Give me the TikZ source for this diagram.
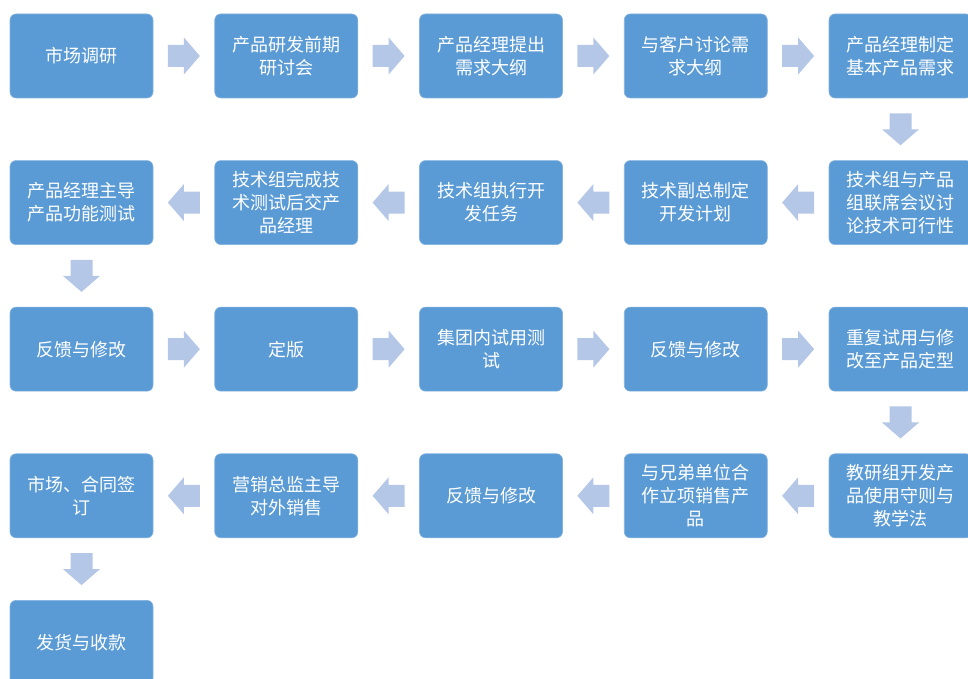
\documentclass[tikz,border=0pt]{standalone}
\usepackage{fontspec}
\newfontfamily\cjk{Noto Sans CJK SC}
\usetikzlibrary{positioning,calc}
\definecolor{boxblue}{RGB}{91,155,213}
\definecolor{boxedge}{RGB}{130,178,224}
\definecolor{arrowblue}{RGB}{180,199,231}
\begin{document}
\begin{tikzpicture}[x=1pt,y=1pt,
    node distance=62.6pt and 61.75pt,
    stepbox/.style={rectangle,rounded corners=6pt,fill=boxblue,draw=boxedge,line width=0.6pt,
      minimum width=143pt,minimum height=84pt,inner sep=0pt,outer sep=0pt,align=center,text=white,
      font=\cjk\fontsize{18}{23}\selectfont},
    blockarrow/.pic={\fill[arrowblue] (-16,-11) -- (0,-11) -- (0,-18.5) -- (16,0)
      -- (0,18.5) -- (0,11) -- (-16,11) -- cycle;}]
  \useasboundingbox (0,0) rectangle (968,679);
  % row 1, left to right
  \node[stepbox,anchor=north west] (r1c1) at (10,665) {市场调研};
  \node[stepbox,right=of r1c1] (r1c2) {产品研发前期\\研讨会};
  \node[stepbox,right=of r1c2] (r1c3) {产品经理提出\\需求大纲};
  \node[stepbox,right=of r1c3] (r1c4) {与客户讨论需\\求大纲};
  \node[stepbox,right=of r1c4] (r1c5) {产品经理制定\\基本产品需求};
  % row 2, right to left
  \node[stepbox,below=of r1c5] (r2c5) {技术组与产品\\组联席会议讨\\论技术可行性};
  \node[stepbox,left=of r2c5] (r2c4) {技术副总制定\\开发计划};
  \node[stepbox,left=of r2c4] (r2c3) {技术组执行开\\发任务};
  \node[stepbox,left=of r2c3] (r2c2) {技术组完成技\\术测试后交产\\品经理};
  \node[stepbox,left=of r2c2] (r2c1) {产品经理主导\\产品功能测试};
  % row 3, left to right
  \node[stepbox,below=of r2c1] (r3c1) {反馈与修改};
  \node[stepbox,right=of r3c1] (r3c2) {定版};
  \node[stepbox,right=of r3c2] (r3c3) {集团内试用测\\试};
  \node[stepbox,right=of r3c3] (r3c4) {反馈与修改};
  \node[stepbox,right=of r3c4] (r3c5) {重复试用与修\\改至产品定型};
  % row 4, right to left
  \node[stepbox,below=of r3c5] (r4c5) {教研组开发产\\品使用守则与\\教学法};
  \node[stepbox,left=of r4c5] (r4c4) {与兄弟单位合\\作立项销售产\\品};
  \node[stepbox,left=of r4c4] (r4c3) {反馈与修改};
  \node[stepbox,left=of r4c3] (r4c2) {营销总监主导\\对外销售};
  \node[stepbox,left=of r4c2] (r4c1) {市场、合同签\\订};
  % row 5
  \node[stepbox,below=of r4c1] (r5c1) {发货与收款};
  % arrows pointing right
  \foreach \a/\b in {r1c1/r1c2,r1c2/r1c3,r1c3/r1c4,r1c4/r1c5,r3c1/r3c2,r3c2/r3c3,r3c3/r3c4,r3c4/r3c5}
    \pic at ($(\a.east)!0.5!(\b.west)$) {blockarrow};
  % arrows pointing left
  \foreach \a/\b in {r2c5/r2c4,r2c4/r2c3,r2c3/r2c2,r2c2/r2c1,r4c5/r4c4,r4c4/r4c3,r4c3/r4c2,r4c2/r4c1}
    \pic[rotate=180] at ($(\a.west)!0.5!(\b.east)$) {blockarrow};
  % arrows pointing down
  \foreach \a/\b in {r1c5/r2c5,r2c1/r3c1,r3c5/r4c5,r4c1/r5c1}
    \pic[rotate=-90] at ($(\a.south)!0.5!(\b.north)$) {blockarrow};
\end{tikzpicture}
\end{document}
